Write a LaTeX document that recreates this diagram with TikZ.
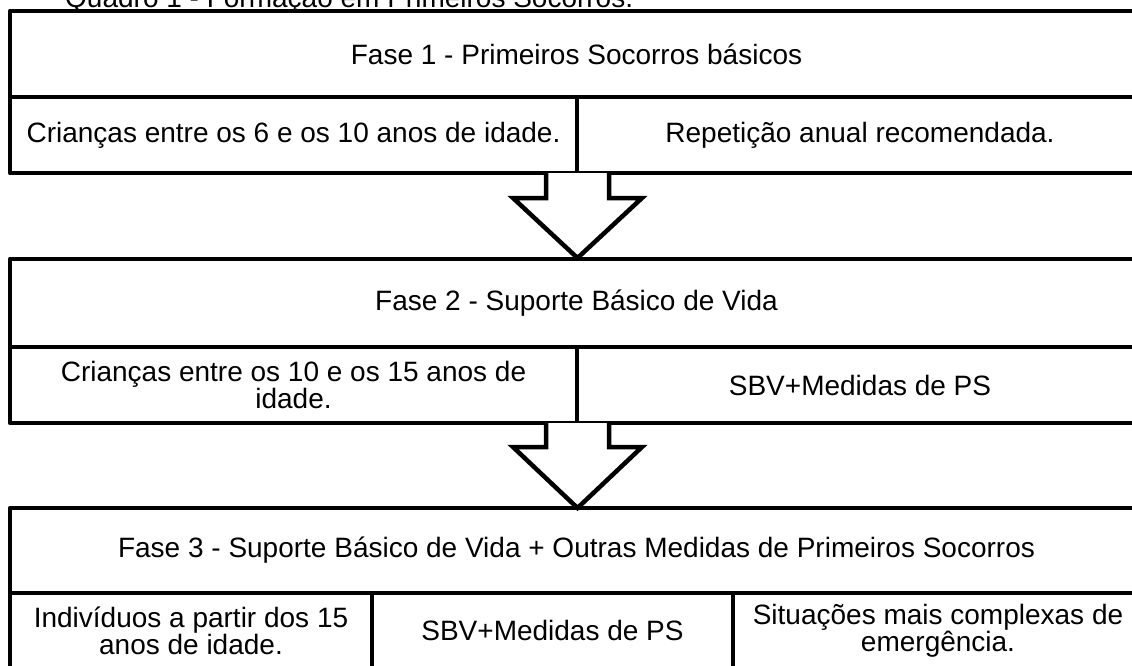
\documentclass[tikz,border=0pt]{standalone}
\usepackage{fontspec}
\setmainfont{Liberation Sans}
\begin{document}
\begin{tikzpicture}[x=1pt,y=-1pt,
  cell/.style={draw=black,line width=4.5pt,line join=round,anchor=north west,inner sep=0pt,outer sep=0pt,align=center,font=\fontsize{28}{27}\selectfont,text=black},
  blockarrow/.style={draw=black,fill=white,line width=4.5pt,line join=miter}]
\useasboundingbox (0,0) rectangle (1132,666);
\clip (0,0) rectangle (1132,666);
% title
\node[anchor=base west,inner sep=0pt,font=\fontsize{28}{27}\selectfont] (title) at (65,8) {Quadro 1 - Formação em Primeiros Socorros.};
% phase 1
\node[cell,minimum width=1133pt,minimum height=86pt] (f1) at (10,11) {Fase 1 - Primeiros Socorros básicos};
\node[cell,minimum width=567pt,minimum height=76pt] (f1a) at (10,97) {Crianças entre os 6 e os 10 anos de idade.};
\node[cell,minimum width=566pt,minimum height=76pt] (f1b) at (577,97) {Repetição anual recomendada.};
% phase 2
\node[cell,minimum width=1133pt,minimum height=88pt] (f2) at (10,259) {Fase 2 - Suporte Básico de Vida};
\node[cell,minimum width=567pt,minimum height=76pt] (f2a) at (10,347) {Crianças entre os 10 e os 15 anos de\\idade.};
\node[cell,minimum width=566pt,minimum height=76pt] (f2b) at (577,347) {SBV+Medidas de PS};
% phase 3
\node[cell,minimum width=1133pt,minimum height=85pt] (f3) at (10,508) {Fase 3 - Suporte Básico de Vida + Outras Medidas de Primeiros Socorros};
\node[cell,minimum width=362pt,minimum height=75pt] (f3a) at (10,593) {Indivíduos a partir dos 15\\anos de idade.};
\node[cell,minimum width=361pt,minimum height=75pt] (f3b) at (372,593) {SBV+Medidas de PS};
\node[cell,minimum width=410pt,minimum height=75pt] (f3c) at (733,593) {Situações mais complexas de\\emergência.};
% arrows
\coordinate (a1top) at (577.5,173);
\coordinate (a1tip) at (577.5,258);
\draw[blockarrow] ([xshift=-31.5pt]a1top) -- ++(0,25) -- ++(-33,0) -- (a1tip) -- ++(64.5,-60) -- ++(-33,0) -- ++(0,-25);
\coordinate (a2top) at (577.5,423);
\coordinate (a2tip) at (577.5,508);
\draw[blockarrow] ([xshift=-31.5pt]a2top) -- ++(0,24) -- ++(-33,0) -- (a2tip) -- ++(64.5,-61) -- ++(-33,0) -- ++(0,-24);
\end{tikzpicture}
\end{document}
